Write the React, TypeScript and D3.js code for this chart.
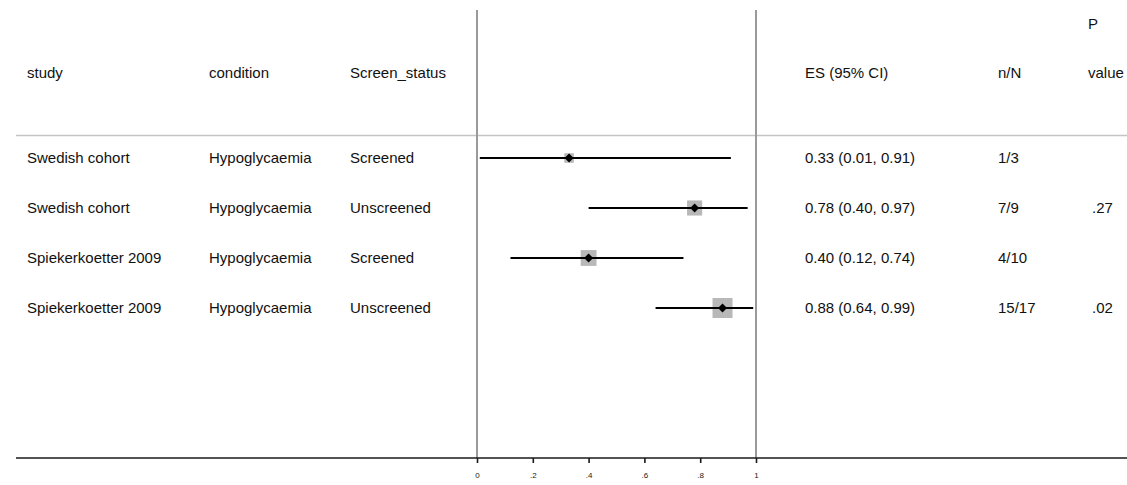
import React, { useEffect, useRef } from "react";
import * as d3 from "d3";

const studies = ["Swedish cohort", "Swedish cohort", "Spiekerkoetter 2009", "Spiekerkoetter 2009"];
const conditions = ["Hypoglycaemia", "Hypoglycaemia", "Hypoglycaemia", "Hypoglycaemia"];
const screenStatus = ["Screened", "Unscreened", "Screened", "Unscreened"];
const es = [0.33, 0.78, 0.4, 0.88];
const lower = [0.01, 0.4, 0.12, 0.64];
const upper = [0.91, 0.97, 0.74, 0.99];
const nEvents = [1, 7, 4, 15];
const nTotal = [3, 9, 10, 17];
const pValues = ["", ".27", "", ".02"];
const ticks = [0, 0.2, 0.4, 0.6, 0.8, 1];

function App() {
  const svgRef = useRef<SVGSVGElement | null>(null);

  useEffect(() => {
    const width = 1127;
    const height = 485;
    const font = "'Liberation Sans', Arial, sans-serif";

    const svg = d3.select(svgRef.current);
    svg.selectAll("*").remove();
    svg.attr("width", width).attr("height", height);

    const x = d3.scaleLinear().domain([0, 1]).range([477, 756]);
    const y = d3.scaleLinear().domain([0, 3]).range([158, 308]);
    const boxSize = d3.scaleSqrt().domain([0, d3.max(nTotal) as number]).range([2, 20]);

    const top = 10;
    const axisY = 458;

    // header rule
    svg.append("line")
      .attr("x1", 16).attr("x2", width)
      .attr("y1", 135.5).attr("y2", 135.5)
      .attr("stroke", "#c4c4c4").attr("stroke-width", 1.6);

    // reference lines at 0 and 1
    svg.selectAll("line.ref")
      .data([0, 1])
      .enter()
      .append("line")
      .attr("class", "ref")
      .attr("x1", (d) => x(d)).attr("x2", (d) => x(d))
      .attr("y1", top).attr("y2", axisY)
      .attr("stroke", "#9a9a9a").attr("stroke-width", 2);

    // bottom rule
    svg.append("line")
      .attr("x1", 16).attr("x2", width)
      .attr("y1", axisY).attr("y2", axisY)
      .attr("stroke", "#1a1a1a").attr("stroke-width", 1.6);

    // axis ticks
    const axis = svg.append("g")
      .attr("transform", `translate(0,${axisY})`)
      .call(
        d3.axisBottom(x)
          .tickValues(ticks)
          .tickSize(5)
          .tickPadding(9)
          .tickFormat((d) => {
            const v = +d;
            if (v === 0) return "0";
            if (v === 1) return "1";
            return d3.format(".1f")(v).replace(/^0/, "");
          })
      );
    axis.select(".domain").remove();
    axis.selectAll(".tick line").attr("stroke", "#1a1a1a").attr("stroke-width", 1.6);
    axis.selectAll(".tick text")
      .attr("font-family", font)
      .attr("font-size", 8)
      .attr("fill", "#222");

    // header text
    const headers = [
      { text: "study", x: 27 },
      { text: "condition", x: 209 },
      { text: "Screen_status", x: 350 },
      { text: "ES (95% CI)", x: 805 },
      { text: "n/N", x: 998 },
      { text: "value", x: 1088 },
    ];
    svg.selectAll("text.hdr")
      .data(headers)
      .enter()
      .append("text")
      .attr("class", "hdr")
      .attr("x", (d) => d.x)
      .attr("y", 73)
      .attr("dy", "0.35em")
      .attr("font-family", font)
      .attr("font-size", 15)
      .attr("fill", "#111")
      .text((d) => d.text);
    svg.append("text")
      .attr("x", 1088).attr("y", 24).attr("dy", "0.35em")
      .attr("font-family", font).attr("font-size", 15).attr("fill", "#111")
      .text("P");

    const rows = es.map((v, i) => ({
      i,
      es: v,
      lo: lower[i],
      hi: upper[i],
      cols: [
        { text: studies[i], x: 27 },
        { text: conditions[i], x: 209 },
        { text: screenStatus[i], x: 350 },
        { text: `${v.toFixed(2)} (${lower[i].toFixed(2)}, ${upper[i].toFixed(2)})`, x: 805 },
        { text: `${nEvents[i]}/${nTotal[i]}`, x: 998 },
        { text: pValues[i], x: 1092 },
      ],
    }));

    const g = svg.selectAll("g.row")
      .data(rows)
      .enter()
      .append("g")
      .attr("class", "row")
      .attr("transform", (d) => `translate(0,${y(d.i)})`);

    g.selectAll("text")
      .data((d) => d.cols)
      .enter()
      .append("text")
      .attr("x", (d) => d.x)
      .attr("dy", "0.35em")
      .attr("font-family", font)
      .attr("font-size", 15)
      .attr("fill", "#111")
      .text((d) => d.text);

    // weight boxes
    g.append("rect")
      .attr("x", (d) => x(d.es) - boxSize(nTotal[d.i]) / 2)
      .attr("y", (d) => -boxSize(nTotal[d.i]) / 2)
      .attr("width", (d) => boxSize(nTotal[d.i]))
      .attr("height", (d) => boxSize(nTotal[d.i]))
      .attr("fill", "#b8b8b8");

    // confidence intervals
    g.append("line")
      .attr("x1", (d) => x(d.lo))
      .attr("x2", (d) => x(d.hi))
      .attr("y1", 0).attr("y2", 0)
      .attr("stroke", "#000").attr("stroke-width", 2);

    // point estimate diamonds
    const diamond = d3.symbol().type(d3.symbolDiamond2).size(52);
    g.append("path")
      .attr("d", diamond() as string)
      .attr("transform", (d) => `translate(${x(d.es)},0)`)
      .attr("fill", "#000");
  }, []);

  return (
    <svg
      ref={svgRef}
      style={{ position: "absolute", left: 0, top: 0, background: "#fff" }}
    ></svg>
  );
}

export default App;
